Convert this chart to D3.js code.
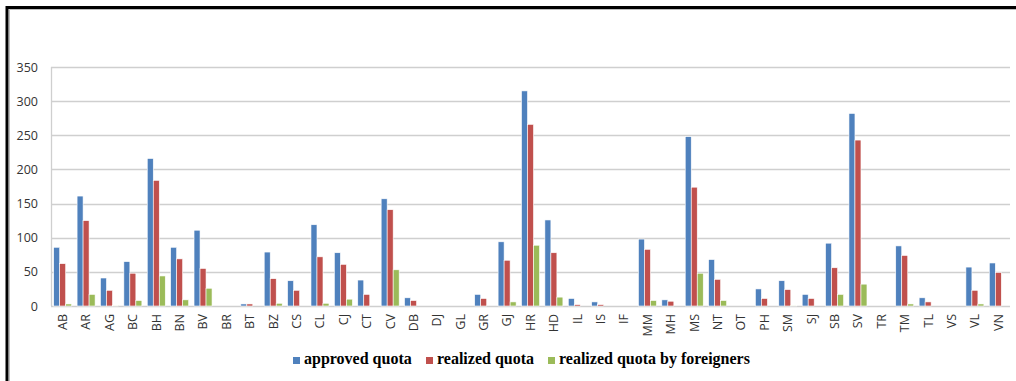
<!DOCTYPE html>
<html>
<head>
<meta charset="utf-8">
<script src="https://cdn.jsdelivr.net/npm/d3@7"></script>
<style>
  body { margin: 0; background: #fff; }
  svg { display: block; }
</style>
</head>
<body>
<div id="chart"></div>
<script>
const counties = ["AB", "AR", "AG", "BC", "BH", "BN", "BV", "BR", "BT", "BZ", "CS", "CL", "CJ", "CT",
  "CV", "DB", "DJ", "GL", "GR", "GJ", "HR", "HD", "IL", "IS", "IF", "MM", "MH", "MS", "NT", "OT",
  "PH", "SM", "SJ", "SB", "SV", "TR", "TM", "TL", "VS", "VL", "VN"];

const approved = [86, 161, 41, 65, 216, 86, 111, 0, 3, 79, 37, 119, 78, 38,
  157, 12, 0, 0, 17, 94, 315, 126, 11, 6, 0, 98, 9, 248, 68, 0,
  25, 37, 17, 92, 282, 0, 88, 12, 0, 57, 63];

const realized = [62, 125, 23, 48, 184, 69, 55, 0, 3, 40, 23, 72, 61, 17,
  141, 8, 0, 0, 11, 67, 266, 78, 2, 2, 0, 83, 7, 174, 39, 0,
  11, 24, 11, 56, 243, 0, 74, 6, 0, 23, 49];

const foreigners = [3, 17, 1, 8, 44, 9, 26, 0, 0, 4, 0, 4, 10, 0,
  53, 0, 0, 0, 0, 6, 89, 13, 0, 0, 0, 8, 0, 48, 8, 0,
  0, 1, 0, 17, 32, 0, 3, 0, 0, 3, 0];

const seriesNames = ["approved quota", "realized quota", "realized quota by foreigners"];
const yTicks = [0, 50, 100, 150, 200, 250, 300, 350];

const W = 1016, H = 381;
const margin = { top: 67, right: 6, bottom: 75, left: 51 },
  width = W - margin.left - margin.right,
  height = H - margin.top - margin.bottom;

const color = d3.scaleOrdinal()
  .domain(seriesNames)
  .range(["#4f81bd", "#c0504d", "#9bbb59"]);

const table = counties.map((c, i) => ({
  county: c,
  values: [approved[i], realized[i], foreigners[i]]
}));

const root = d3.select("#chart")
  .append("svg")
  .attr("width", W)
  .attr("height", H);

root.append("rect").attr("width", W).attr("height", H).attr("fill", "#fff");

// frame (black outer edge + light inner line)
root.append("path")
  .attr("d", `M7,${H} V7.5 H${W}`)
  .attr("fill", "none")
  .attr("stroke", "#000")
  .attr("stroke-width", 3);
root.append("path")
  .attr("d", `M9.5,${H} V9.5 H${W}`)
  .attr("fill", "none")
  .attr("stroke", "#bdbdbd")
  .attr("stroke-width", 1);

const svg = root.append("g")
  .attr("transform", `translate(${margin.left},${margin.top})`);

const x0 = d3.scaleBand()
  .domain(counties)
  .range([0, width])
  .paddingInner(0.23)
  .paddingOuter(0.115);

const x1 = d3.scaleBand()
  .domain([0, 1, 2])
  .range([0, x0.bandwidth()]);

const y = d3.scaleLinear()
  .domain([0, 350])
  .range([height, 0]);

// gridlines
svg.append("g")
  .selectAll("line")
  .data(yTicks)
  .join("line")
  .attr("x1", 0)
  .attr("x2", width)
  .attr("y1", d => Math.round(y(d)) + 0.5)
  .attr("y2", d => Math.round(y(d)) + 0.5)
  .attr("stroke", "#cfcfcf")
  .attr("stroke-width", 1.3);

svg.append("line")
  .attr("x1", 0.5).attr("x2", 0.5)
  .attr("y1", 0).attr("y2", height)
  .attr("stroke", "#cfcfcf")
  .attr("stroke-width", 1.3);

// y axis labels
const yAxis = svg.append("g")
  .call(d3.axisLeft(y).tickValues(yTicks).tickSize(0).tickPadding(13));
yAxis.select(".domain").remove();
yAxis.selectAll("text")
  .style("font-family", "'Open Sans', sans-serif")
  .style("font-size", "12.5px")
  .attr("fill", "#333");

// bars
svg.append("g")
  .selectAll("g")
  .data(table)
  .join("g")
  .attr("transform", d => `translate(${x0(d.county)},0)`)
  .selectAll("rect")
  .data(d => d.values.map((v, k) => ({ k, v })).filter(e => e.v > 0))
  .join("rect")
  .attr("x", d => x1(d.k))
  .attr("y", d => y(d.v))
  .attr("width", x1.bandwidth())
  .attr("height", d => height - y(d.v))
  .attr("fill", d => color(seriesNames[d.k]))
  .attr("stroke", "#fff")
  .attr("stroke-width", 0.6);

// x axis labels
const xAxis = svg.append("g")
  .attr("transform", `translate(0,${height})`)
  .call(d3.axisBottom(x0).tickSize(0).tickPadding(0));
xAxis.select(".domain").remove();
xAxis.selectAll("text")
  .style("font-family", "'Open Sans', sans-serif")
  .style("font-size", "12.5px")
  .attr("fill", "#333")
  .style("text-anchor", "end")
  .attr("transform", "rotate(-90)")
  .attr("x", -8)
  .attr("y", 0)
  .attr("dy", "0.35em");

// legend
const legendX = [293, 426, 548];
const legend = root.append("g")
  .selectAll("g")
  .data(seriesNames)
  .join("g")
  .attr("transform", (d, i) => `translate(${legendX[i]},357)`);

legend.append("rect")
  .attr("width", 7)
  .attr("height", 7)
  .attr("fill", d => color(d));

legend.append("text")
  .attr("x", 11)
  .attr("y", 7)
  .style("font-family", "'Liberation Serif', 'Times New Roman', serif")
  .style("font-weight", "bold")
  .style("font-size", "16px")
  .attr("fill", "#000")
  .text(d => d);
</script>
</body>
</html>
